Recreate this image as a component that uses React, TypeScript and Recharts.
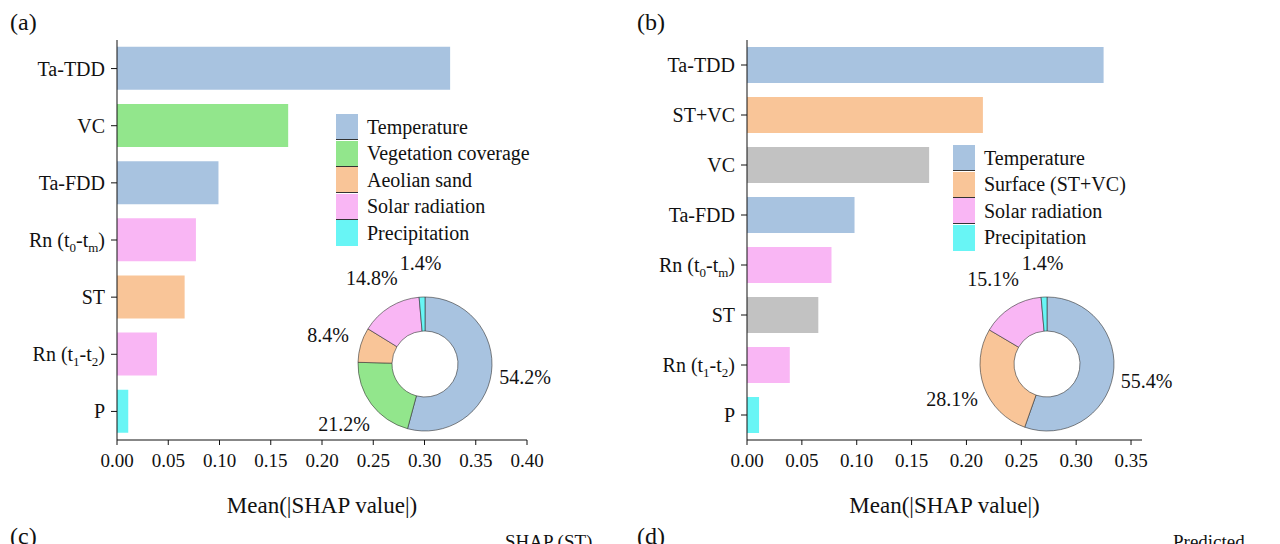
import React from "react";
import { BarChart, Bar, XAxis, YAxis, Cell, PieChart, Pie } from "recharts";

const FONT = "Liberation Serif";

const BLUE = "#a8c3e0";
const GREEN = "#92e68c";
const ORANGE = "#f9c598";
const PINK = "#f9b6f4";
const CYAN = "#68f5f5";
const GRAY = "#c2c2c2";

// panel (a)
const featuresA = ["Ta-TDD", "VC", "Ta-FDD", "Rn (t0-tm)", "ST", "Rn (t1-t2)", "P"];
const valuesA = [0.325, 0.167, 0.099, 0.077, 0.066, 0.039, 0.011];
const colorsA = [BLUE, GREEN, BLUE, PINK, ORANGE, PINK, CYAN];
const ticksA = [0, 0.05, 0.1, 0.15, 0.2, 0.25, 0.3, 0.35, 0.4];
const groupsA = ["Temperature", "Vegetation coverage", "Aeolian sand", "Solar radiation", "Precipitation"];
const sharesA = [54.2, 21.2, 8.4, 14.8, 1.4];
const groupColorsA = [BLUE, GREEN, ORANGE, PINK, CYAN];

// panel (b)
const featuresB = ["Ta-TDD", "ST+VC", "VC", "Ta-FDD", "Rn (t0-tm)", "ST", "Rn (t1-t2)", "P"];
const valuesB = [0.325, 0.215, 0.166, 0.098, 0.077, 0.065, 0.039, 0.011];
const colorsB = [BLUE, ORANGE, GRAY, BLUE, PINK, GRAY, PINK, CYAN];
const ticksB = [0, 0.05, 0.1, 0.15, 0.2, 0.25, 0.3, 0.35];
const groupsB = ["Temperature", "Surface (ST+VC)", "Solar radiation", "Precipitation"];
const sharesB = [55.4, 28.1, 15.1, 1.4];
const groupColorsB = [BLUE, ORANGE, PINK, CYAN];

function FeatureTick(props: any) {
  const { x, y, payload } = props;
  const v: string = payload.value;
  const m = v.match(/^Rn \(t(\w)-t(\w)\)$/);
  return (
    <text x={x - 4} y={y} dy={7} textAnchor="end" fontSize={20} fontFamily={FONT} fill="#111">
      {m ? (
        <>
          <tspan>Rn (t</tspan>
          <tspan fontSize={13} dy={5}>{m[1]}</tspan>
          <tspan dy={-5}>-t</tspan>
          <tspan fontSize={13} dy={5}>{m[2]}</tspan>
          <tspan dy={-5}>)</tspan>
        </>
      ) : (
        v
      )}
    </text>
  );
}

function ValueTick(props: any) {
  const { x, y, payload } = props;
  return (
    <text x={x} y={y} dy={20} textAnchor="middle" fontSize={19} fontFamily={FONT} fill="#111">
      {payload.value.toFixed(2)}
    </text>
  );
}

function AxisTitle(props: any) {
  const { viewBox } = props;
  return (
    <text x={viewBox.x + viewBox.width / 2} y={viewBox.y + 73} textAnchor="middle" fontSize={23} fontFamily={FONT} fill="#111">
      Mean(|SHAP value|)
    </text>
  );
}

function ShapBars({ features, values, colors, ticks, domainMax, yWidth, width, rightMargin, gap }: any) {
  const data = features.map((f: string, i: number) => ({ name: f, value: values[i] }));
  return (
    <BarChart
      layout="vertical"
      width={width}
      height={530}
      data={data}
      margin={{ top: 40, right: rightMargin, left: 0, bottom: 0 }}
      barCategoryGap={gap}
    >
      <XAxis
        type="number"
        domain={[0, domainMax]}
        ticks={ticks}
        height={90}
        stroke="#111"
        tickSize={5}
        tick={<ValueTick />}
        label={<AxisTitle />}
      />
      <YAxis type="category" dataKey="name" width={yWidth} stroke="#111" tickSize={6} tick={<FeatureTick />} />
      <Bar dataKey="value" isAnimationActive={false}>
        {data.map((_: any, i: number) => (
          <Cell key={i} fill={colors[i]} />
        ))}
      </Bar>
    </BarChart>
  );
}

const RAD = Math.PI / 180;

function Donut({ groups, shares, colors }: any) {
  const data = groups.map((g: string, i: number) => ({ name: g, value: shares[i] }));
  const label = (p: any) => {
    const r = p.outerRadius + 34;
    const x = p.cx + r * Math.cos(-p.midAngle * RAD);
    const y = p.cy + r * Math.sin(-p.midAngle * RAD);
    return (
      <text x={x} y={y} dy={7} textAnchor="middle" fontSize={20} fontFamily={FONT} fill="#111">
        {p.value.toFixed(1)}%
      </text>
    );
  };
  return (
    <PieChart width={320} height={260}>
      <Pie
        data={data}
        dataKey="value"
        cx={160}
        cy={130}
        innerRadius={33}
        outerRadius={67}
        startAngle={90}
        endAngle={-270}
        stroke="#333"
        strokeWidth={0.6}
        label={label}
        labelLine={false}
        isAnimationActive={false}
      >
        {data.map((_: any, i: number) => (
          <Cell key={i} fill={colors[i]} />
        ))}
      </Pie>
    </PieChart>
  );
}

function LegendBox({ groups, colors, left, top }: any) {
  return (
    <div style={{ position: "absolute", left, top, fontFamily: FONT, fontSize: 20, color: "#111" }}>
      {groups.map((g: string, i: number) => (
        <div key={g} style={{ display: "flex", alignItems: "center", height: 26.5 }}>
          <div style={{ width: 22, height: 26, background: colors[i], borderBottom: i < groups.length - 1 ? "1px solid #333" : "none", boxSizing: "border-box" }} />
          <span style={{ marginLeft: 9 }}>{g}</span>
        </div>
      ))}
    </div>
  );
}

const abs = (left: number, top: number): React.CSSProperties => ({ position: "absolute", left, top });
const txt: React.CSSProperties = { position: "absolute", fontFamily: FONT, fontSize: 24, color: "#111", lineHeight: "24px" };

export default function App() {
  return (
    <div style={{ position: "absolute", left: 0, top: 0, width: 1280, height: 544, background: "#fff", overflow: "hidden", fontFamily: FONT }}>
      <div style={abs(0, 0)}>
        <ShapBars features={featuresA} values={valuesA} colors={colorsA} ticks={ticksA} domainMax={0.4} yWidth={117} width={560} rightMargin={33} gap="12%" />
      </div>
      <div style={abs(640, 0)}>
        <ShapBars features={featuresB} values={valuesB} colors={colorsB} ticks={ticksB} domainMax={0.36} yWidth={107} width={540} rightMargin={38} gap="14%" />
      </div>
      <div style={abs(260, 229)}>
        <Donut groups={groupsA} shares={sharesA} colors={groupColorsA} />
      </div>
      <div style={abs(882, 229)}>
        <Donut groups={groupsB} shares={sharesB} colors={groupColorsB} />
      </div>
      <LegendBox groups={groupsA} colors={groupColorsA} left={336} top={114} />
      <LegendBox groups={groupsB} colors={groupColorsB} left={953} top={145} />
      <div style={{ ...txt, left: 10, top: 10 }}>(a)</div>
      <div style={{ ...txt, left: 637, top: 10 }}>(b)</div>
      <div style={{ ...txt, left: 10, top: 524 }}>(c)</div>
      <div style={{ ...txt, left: 637, top: 524 }}>(d)</div>
      <div style={{ ...txt, left: 505, top: 530, fontSize: 19 }}>SHAP (ST)</div>
      <div style={{ ...txt, left: 1173, top: 530, fontSize: 19 }}>Predicted</div>
    </div>
  );
}
